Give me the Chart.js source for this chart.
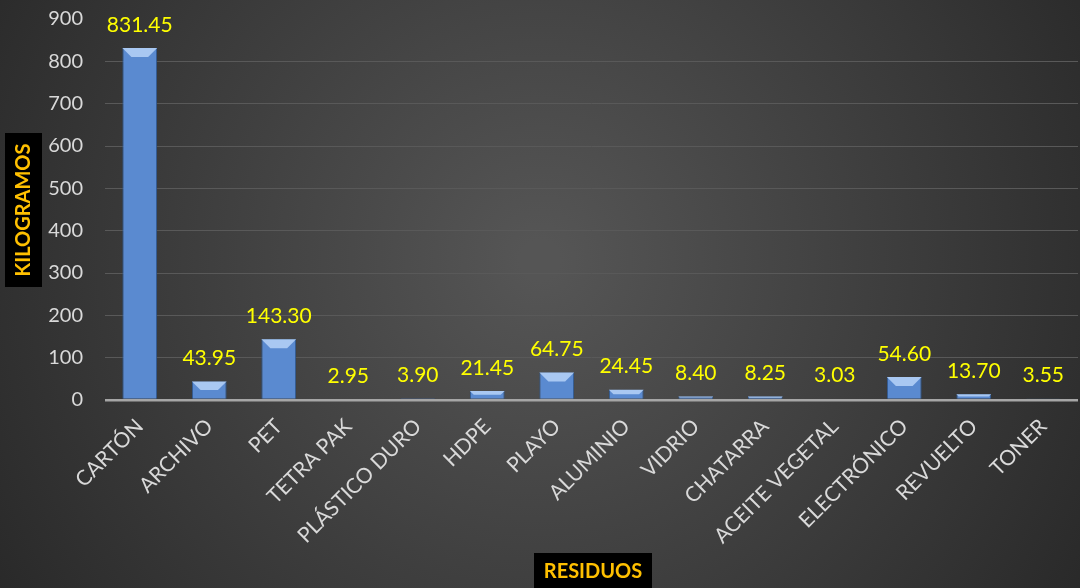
<!DOCTYPE html>
<html>
<head>
<meta charset="utf-8">
<script src="https://cdn.jsdelivr.net/npm/chart.js@4"></script>
<style>
  html, body { margin: 0; padding: 0; background: #333; }
  #wrap { width: 1080px; height: 588px; }
</style>
</head>
<body>
<div id="wrap"><canvas id="chart"></canvas></div>
<script>
"use strict";
const categories = ["CARTÓN", "ARCHIVO", "PET", "TETRA PAK", "PLÁSTICO DURO", "HDPE", "PLAYO",
    "ALUMINIO", "VIDRIO", "CHATARRA", "ACEITE VEGETAL", "ELECTRÓNICO", "REVUELTO", "TONER"];
const kilos = [831.45, 43.95, 143.30, 2.95, 3.90, 21.45, 64.75, 24.45, 8.40, 8.25, 3.03, 54.60, 13.70, 3.55];
const yTicks = [0, 100, 200, 300, 400, 500, 600, 700, 800, 900];
const yTitle = "KILOGRAMOS";
const xTitle = "RESIDUOS";

const FONT = "Lato, 'Open Sans', sans-serif";

// dark radial background like the office chart
const background = {
    id: "background",
    beforeDraw(chart) {
        const c = chart.ctx;
        const g = c.createRadialGradient(540, 260, 20, 540, 260, 680);
        g.addColorStop(0, "#555555");
        g.addColorStop(1, "#262626");
        c.save();
        c.fillStyle = g;
        c.fillRect(0, 0, chart.width, chart.height);
        c.restore();
    }
};

// light bevel on top of each bar
const bevel = {
    id: "bevel",
    afterDatasetsDraw(chart) {
        const c = chart.ctx;
        const meta = chart.getDatasetMeta(0);
        c.save();
        meta.data.forEach((bar) => {
            const left = bar.x - bar.width / 2;
            const right = bar.x + bar.width / 2;
            const top = bar.y;
            const b = Math.min(9, (bar.base - top) / 2);
            if (b <= 0.5) return;
            c.fillStyle = "#a9c8f2";
            c.beginPath();
            c.moveTo(left, top);
            c.lineTo(right, top);
            c.lineTo(right - b, top + b);
            c.lineTo(left + b, top + b);
            c.closePath();
            c.fill();
        });
        c.restore();
    }
};

// value labels and axis titles in black boxes
const labels = {
    id: "labels",
    afterDraw(chart) {
        const c = chart.ctx;
        const meta = chart.getDatasetMeta(0);
        c.save();
        c.font = "21px " + FONT;
        c.fillStyle = "#ffff00";
        c.textAlign = "center";
        c.textBaseline = "middle";
        meta.data.forEach((bar, i) => {
            c.fillText(kilos[i].toFixed(2), bar.x, bar.y - 23);
        });

        c.font = "bold 20px " + FONT;
        // x title
        c.fillStyle = "#000000";
        c.fillRect(534, 553, 118, 35);
        c.fillStyle = "#ffc000";
        c.fillText(xTitle, 593, 572);
        // y title
        c.translate(23, 210);
        c.rotate(-Math.PI / 2);
        c.fillStyle = "#000000";
        c.fillRect(-77, -18, 154, 37);
        c.fillStyle = "#ffc000";
        c.fillText(yTitle, 0, 1);
        c.restore();
    }
};

const ctx = document.getElementById("chart").getContext("2d");
const chart = new Chart(ctx, {
    type: "bar",
    data: {
        labels: categories,
        datasets: [{
            data: kilos,
            backgroundColor: (context) => {
                const el = context.element;
                if (!context.chart.chartArea || !el || !el.width) return "#5a8ad0";
                const l = el.x - el.width / 2;
                const g = context.chart.ctx.createLinearGradient(l, 0, l + el.width, 0);
                g.addColorStop(0, "#3d6cb0");
                g.addColorStop(0.2, "#5a8bd2");
                g.addColorStop(0.5, "#6c9ce2");
                g.addColorStop(0.8, "#5a8bd2");
                g.addColorStop(1, "#3d6cb0");
                return g;
            },
            borderColor: "#2f5a94",
            borderWidth: 1,
            barPercentage: 0.5,
            categoryPercentage: 1.0
        }]
    },
    plugins: [background, bevel, labels],
    options: {
        responsive: true,
        maintainAspectRatio: false,
        animation: false,
        layout: { padding: { top: 19, right: 2, left: 0, bottom: 0 } },
        plugins: {
            legend: { display: false },
            tooltip: { enabled: false }
        },
        scales: {
            x: {
                grid: { display: false },
                border: { display: false },
                ticks: {
                    color: "#d9d9d9",
                    font: { family: FONT, size: 21 },
                    maxRotation: 45,
                    minRotation: 45,
                    padding: 6
                },
                afterFit: (scale) => {
                    scale.height = 188;
                    scale.paddingTop = 0;
                }
            },
            y: {
                min: 0,
                max: 900,
                afterBuildTicks: (axis) => axis.ticks = yTicks.map(v => ({ value: v })),
                border: { display: false },
                grid: {
                    color: (c) => c.tick.value === 0 ? "#a6a6a6" : (c.tick.value === 900 ? "rgba(0,0,0,0)" : "#595959"),
                    lineWidth: (c) => c.tick.value === 0 ? 2.5 : 1,
                    drawTicks: false
                },
                ticks: {
                    color: "#d9d9d9",
                    font: { family: FONT, size: 20 },
                    padding: 22
                },
                afterFit: (scale) => {
                    scale.width = 105;
                    scale.paddingTop = 0;
                }
            }
        }
    }
});
</script>
</body>
</html>
